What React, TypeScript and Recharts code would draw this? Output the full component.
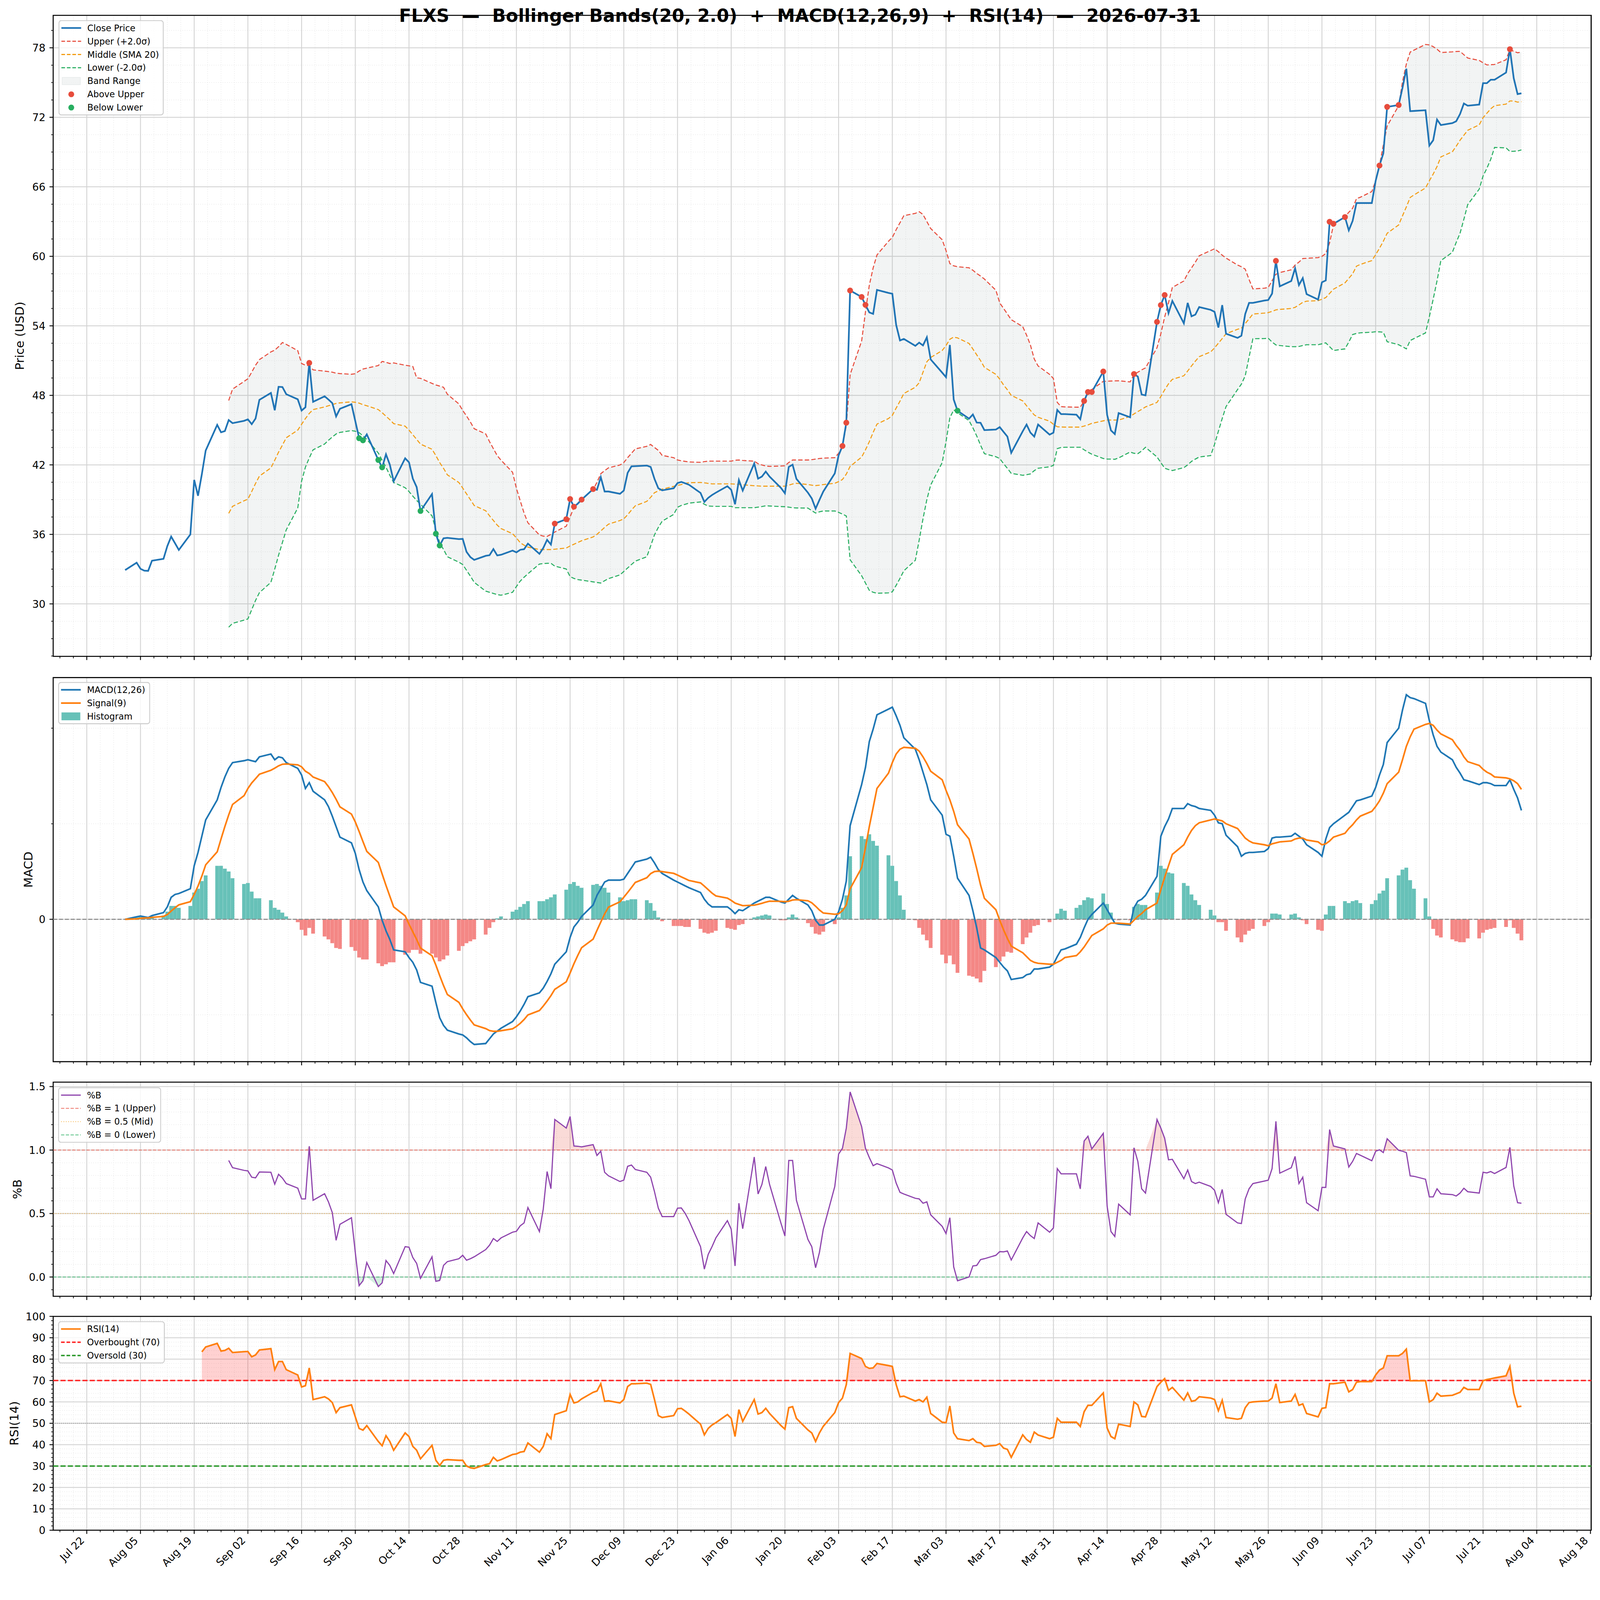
import React from 'react';
import {
  Area,
  Bar,
  CartesianGrid,
  Cell,
  ComposedChart,
  Line,
  ReferenceArea,
  ReferenceLine,
  Scatter,
  XAxis,
  YAxis,
} from 'recharts';

const FIG_W = 4378;
const FIG_H = 4322;
const FONT = '"DejaVu Sans", "Liberation Sans", sans-serif';
const X_DOMAIN: [number, number] = [-8.76, 392.2];
const Y_AXIS_W = 125.5;

// x values are calendar days after 2025-07-22; first close is 2025-08-01 (day 10)
const ORIGIN = Date.UTC(2025, 6, 22);
const FIRST_DAY = 10;

const xTickLabels = [
  'Jul 22', 'Aug 05', 'Aug 19', 'Sep 02', 'Sep 16', 'Sep 30', 'Oct 14', 'Oct 28',
  'Nov 11', 'Nov 25', 'Dec 09', 'Dec 23', 'Jan 06', 'Jan 20', 'Feb 03', 'Feb 17',
  'Mar 03', 'Mar 17', 'Mar 31', 'Apr 14', 'Apr 28', 'May 12', 'May 26', 'Jun 09',
  'Jun 23', 'Jul 07', 'Jul 21', 'Aug 04', 'Aug 18',
];

// one row per trading week (Mon..Fri), first entry is Fri 2025-08-01
const close = [
  32.92,
  33.56, 33.03, 32.87, 32.85, 33.73,
  33.89, 34.99, 35.81, 35.24, 34.66,
  35.99, 40.70, 39.33, 41.20, 43.24,
  45.45, 44.81, 44.92, 45.87, 45.60,
  45.80, 45.93, 45.51, 46.00, 47.61,
  48.21, 46.71, 48.74, 48.72, 48.10,
  47.66, 46.69, 46.97, 50.80, 47.44,
  47.92, 47.64, 47.33, 46.18, 46.84,
  47.24, 45.78, 44.30, 44.12, 44.63,
  42.42, 41.78, 42.91, 42.02, 40.59,
  42.57, 42.22, 40.81, 40.08, 38.02,
  39.48, 36.06, 35.04, 35.66, 35.70,
  35.59, 35.61, 34.49, 34.04, 33.80,
  34.15, 34.20, 34.73, 34.18, 34.24,
  34.60, 34.45, 34.67, 34.72, 35.20,
  34.32, 34.82, 35.53, 35.12, 36.93,
  37.31, 39.05, 38.39, 38.65, 39.00,
  39.91, 39.85, 40.94, 39.70, 39.70,
  39.50, 39.78, 41.31, 41.87, 41.89,
  41.94, 41.82, 40.79, 39.98, 39.80,
  39.98, 40.43, 40.53, 40.41, 40.28,
  39.58, 38.80, 39.15, 39.40, 39.60,
  40.16, 39.85, 38.60, 40.69, 39.78,
  42.12, 40.81, 40.99, 41.42, 40.99,
  40.00, 39.55, 41.82, 42.02, 40.79,
  39.60, 39.10, 38.22, 38.97, 39.70,
  41.26, 42.82, 43.63, 45.64, 57.05,
  56.49, 55.81, 55.16, 55.03, 57.10,
  56.84, 56.77, 54.08, 52.74, 52.87,
  52.27, 52.55, 52.31, 53.01, 51.10,
  49.96, 49.57, 52.35, 47.64, 46.67,
  45.99, 46.35, 45.65, 45.63, 45.00,
  45.05, 45.26, 44.85, 44.44, 43.04,
  44.90, 45.48, 44.78, 44.44, 45.48,
  44.61, 44.78, 46.74, 46.38, 46.38,
  46.33, 45.94, 47.52, 48.29, 48.29,
  50.06, 46.31, 44.97, 44.66, 46.47,
  46.11, 49.84, 49.62, 48.07, 48.00,
  54.34, 55.79, 56.66, 55.09, 56.15,
  54.22, 55.98, 54.82, 54.97, 55.62,
  55.38, 55.21, 53.85, 55.79, 53.32,
  52.96, 53.15, 55.02, 55.98, 55.98,
  56.18, 56.23, 56.78, 59.61, 57.41,
  57.87, 58.97, 57.52, 58.12, 56.74,
  56.27, 57.76, 57.92, 62.98, 62.81,
  63.39, 62.24, 63.06, 64.60, 64.60,
  64.60, 66.52, 67.84, 68.88, 72.90,
  73.06, 74.55, 76.19, 72.53, 72.55,
  72.61, 69.56, 70.02, 71.81, 71.33,
  71.50, 71.66, 72.28, 73.19, 73.00,
  73.10, 74.95, 74.95, 75.24, 75.24,
  75.86, 77.88, 75.37, 74.00, 74.07,
];

const upper = [
  null,
  null, null, null, null, null,
  null, null, null, null, null,
  null, null, null, null, null,
  null, null, null, 47.55, 48.54,
  49.20, 49.43, 50.00, 50.60, 51.08,
  51.75, 51.90, 52.20, 52.56, 52.40,
  51.86, 50.75, 50.60, 50.57, 50.20,
  50.09, 50.05, 50.00, 49.91, 49.88,
  49.82, 49.87, 50.10, 50.27, 50.35,
  50.57, 50.93, 50.85, 50.75, 50.80,
  50.60, 50.55, 50.49, 49.51, 49.47,
  49.03, 48.90, 48.80, 48.70, 48.10,
  47.26, 46.70, 46.22, 45.70, 45.12,
  44.67, 44.00, 43.40, 42.80, 42.40,
  41.36, 39.98, 38.90, 37.84, 37.00,
  35.95, 35.85, 35.83, 36.00, 36.20,
  36.71, 37.50, 38.34, 38.70, 39.05,
  39.85, 40.50, 41.24, 41.50, 41.74,
  41.99, 42.20, 42.62, 43.00, 43.38,
  43.60, 43.76, 43.50, 43.25, 42.82,
  42.62, 42.42, 42.35, 42.30, 42.25,
  42.22, 42.28, 42.32, 42.32, 42.32,
  42.32, 42.32, 42.40, 42.42, 42.38,
  42.32, 42.10, 41.99, 41.90, 41.87,
  41.90, 41.92, 42.20, 42.42, 42.42,
  42.42, 42.45, 42.50, 42.55, 42.58,
  42.62, 43.00, 43.63, 45.39, 49.80,
  52.69, 55.21, 57.50, 59.00, 60.12,
  61.30, 61.63, 62.30, 62.90, 63.51,
  63.71, 63.85, 63.61, 63.00, 62.40,
  61.43, 60.50, 59.37, 59.18, 59.10,
  59.01, 58.80, 58.52, 58.30, 58.04,
  57.07, 55.98, 55.50, 55.02, 54.53,
  53.93, 53.20, 52.35, 51.14, 50.54,
  49.81, 49.45, 47.39, 47.03, 47.00,
  46.98, 46.98, 47.52, 48.12, 48.50,
  49.21, 49.22, 49.24, 49.25, 49.26,
  49.16, 49.81, 50.00, 50.20, 50.37,
  52.11, 53.32, 54.77, 56.00, 57.31,
  57.87, 58.52, 59.00, 59.50, 60.05,
  60.50, 60.65, 60.40, 60.10, 59.85,
  59.25, 59.10, 58.89, 58.00, 57.19,
  57.25, 57.31, 57.90, 58.45, 58.60,
  58.84, 59.25, 59.50, 59.81, 59.83,
  59.89, 60.00, 60.24, 61.17, 62.71,
  63.43, 63.80, 64.15, 64.98, 65.10,
  65.59, 66.52, 67.84, 69.60, 71.25,
  73.00, 75.06, 76.60, 77.63, 77.80,
  78.29, 78.25, 78.10, 77.88, 77.59,
  77.65, 77.68, 77.69, 77.40, 77.12,
  76.91, 76.70, 76.52, 76.54, 76.56,
  76.97, 77.84, 77.70, 77.57, 77.63,
];

const middle = [
  null,
  null, null, null, null, null,
  null, null, null, null, null,
  null, null, null, null, null,
  null, null, null, 37.82, 38.42,
  38.90, 39.04, 39.70, 40.40, 41.03,
  41.74, 42.40, 43.10, 43.70, 44.34,
  45.00, 45.50, 46.00, 46.44, 46.77,
  47.00, 47.10, 47.20, 47.30, 47.35,
  47.44, 47.40, 47.33, 47.20, 47.10,
  46.77, 46.50, 46.20, 45.90, 45.56,
  45.34, 45.00, 44.60, 44.20, 43.79,
  43.35, 42.80, 42.20, 41.70, 41.14,
  40.48, 40.00, 39.50, 39.00, 38.49,
  38.04, 37.60, 37.20, 36.80, 36.50,
  36.06, 35.70, 35.28, 35.07, 34.90,
  34.69, 34.69, 34.69, 34.69, 34.72,
  34.82, 35.00, 35.15, 35.30, 35.45,
  35.78, 36.00, 36.30, 36.60, 36.88,
  37.20, 37.34, 37.70, 38.10, 38.47,
  38.85, 39.20, 39.60, 39.75, 39.90,
  40.15, 40.23, 40.30, 40.40, 40.46,
  40.48, 40.45, 40.40, 40.36, 40.36,
  40.36, 40.36, 40.34, 40.31, 40.28,
  40.20, 40.18, 40.16, 40.16, 40.16,
  40.16, 40.16, 40.25, 40.35, 40.41,
  40.30, 40.25, 40.21, 40.25, 40.30,
  40.41, 40.55, 40.74, 41.20, 41.87,
  42.67, 43.30, 44.00, 44.80, 45.52,
  46.00, 46.27, 46.90, 47.50, 48.16,
  48.70, 49.09, 50.00, 50.90, 51.27,
  51.87, 52.30, 52.84, 53.03, 52.96,
  52.48, 52.00, 51.50, 51.00, 50.42,
  49.81, 49.40, 48.90, 48.48, 48.00,
  47.52, 47.10, 46.70, 46.31, 46.11,
  45.77, 45.50, 45.29, 45.27, 45.26,
  45.26, 45.26, 45.35, 45.45, 45.58,
  45.80, 45.87, 45.87, 45.87, 45.87,
  46.18, 46.40, 46.60, 46.79, 47.00,
  47.39, 47.90, 48.48, 49.00, 49.38,
  49.69, 50.10, 50.54, 50.95, 51.34,
  51.75, 52.10, 52.50, 52.90, 53.32,
  53.70, 53.81, 54.20, 54.60, 55.02,
  55.10, 55.14, 55.25, 55.38, 55.42,
  55.50, 55.60, 55.80, 56.03, 56.13,
  56.17, 56.30, 56.44, 56.80, 57.16,
  57.71, 58.10, 58.49, 59.15, 59.30,
  59.63, 60.14, 60.70, 61.30, 61.99,
  62.71, 63.50, 64.26, 65.08, 65.30,
  65.90, 66.52, 67.10, 67.75, 68.58,
  69.03, 69.50, 70.02, 70.45, 70.88,
  71.35, 71.97, 72.35, 72.73, 73.00,
  73.14, 73.41, 73.41, 73.31, 73.35,
];

const lower = [
  null,
  null, null, null, null, null,
  null, null, null, null, null,
  null, null, null, null, null,
  null, null, null, 27.99, 28.32,
  28.60, 28.70, 29.50, 30.30, 30.97,
  31.86, 33.00, 34.20, 35.30, 36.39,
  38.27, 40.59, 41.80, 42.60, 43.30,
  43.80, 44.12, 44.40, 44.67, 44.80,
  44.96, 44.90, 44.78, 44.50, 44.20,
  43.02, 42.40, 41.80, 41.10, 40.48,
  40.03, 39.70, 39.30, 38.93, 38.60,
  37.60, 36.40, 35.28, 34.70, 34.07,
  33.60, 33.40, 32.90, 32.40, 31.86,
  31.10, 31.00, 30.90, 30.80, 30.75,
  31.00, 31.50, 31.97, 32.30, 32.60,
  33.44, 33.48, 33.50, 33.51, 33.26,
  33.01, 32.35, 32.20, 32.10, 32.05,
  31.90, 31.85, 31.80, 32.00, 32.18,
  32.50, 32.80, 33.10, 33.40, 33.69,
  34.07, 35.00, 35.96, 36.60, 37.14,
  37.72, 38.34, 38.50, 38.60, 38.70,
  38.80, 38.60, 38.45, 38.43, 38.42,
  38.42, 38.42, 38.30, 38.30, 38.30,
  38.30, 38.35, 38.40, 38.47, 38.45,
  38.40, 38.39, 38.35, 38.30, 38.28,
  38.27, 38.05, 37.84, 37.95, 38.02,
  38.02, 37.90, 37.75, 37.59, 33.81,
  32.43, 31.80, 31.17, 31.00, 30.92,
  30.95, 31.04, 31.60, 32.20, 32.86,
  33.76, 35.50, 37.35, 39.00, 40.26,
  42.19, 44.00, 46.06, 46.74, 46.50,
  45.82, 45.20, 44.50, 43.70, 42.97,
  42.70, 42.55, 42.10, 41.70, 41.27,
  41.10, 41.15, 41.22, 41.50, 41.71,
  41.83, 41.95, 43.40, 43.50, 43.52,
  43.52, 43.52, 43.30, 43.10, 42.92,
  42.55, 42.50, 42.50, 42.48, 42.60,
  43.11, 43.00, 42.97, 43.20, 43.52,
  42.68, 42.20, 41.71, 41.60, 41.51,
  41.76, 42.00, 42.30, 42.50, 42.68,
  42.80, 43.77, 44.90, 46.00, 47.03,
  48.50, 48.97, 49.69, 51.30, 52.89,
  52.90, 52.93, 52.60, 52.35, 52.30,
  52.20, 52.20, 52.22, 52.30, 52.37,
  52.37, 52.45, 52.53, 52.20, 51.87,
  52.01, 52.60, 53.25, 53.35, 53.40,
  53.45, 53.49, 53.48, 53.45, 52.63,
  52.37, 52.20, 52.01, 52.73, 52.90,
  53.39, 54.79, 56.30, 57.88, 59.63,
  60.35, 61.20, 61.99, 63.20, 64.46,
  65.80, 66.93, 67.60, 68.37, 69.40,
  69.36, 69.05, 69.07, 69.09, 69.19,
];

// indices (trading-day position) of the flagged closes
const aboveUpperIdx = [34, 80, 81, 82, 83, 85, 86, 133, 134, 135, 136, 137, 178, 179, 180, 181, 187, 191, 192, 193, 214, 224, 225, 226, 233, 235, 236, 257];
const belowLowerIdx = [43, 44, 46, 47, 55, 57, 58, 155];

const macd = [
  0.00,
  0.026, 0.034, 0.026, 0.018, 0.039,
  0.07, 0.13, 0.23, 0.26, 0.27,
  0.32, 0.56, 0.70, 0.87, 1.04,
  1.25, 1.38, 1.49, 1.58, 1.64,
  1.66, 1.67, 1.66, 1.65, 1.70,
  1.73, 1.67, 1.70, 1.69, 1.64,
  1.58, 1.51, 1.37, 1.43, 1.34,
  1.25, 1.18, 1.08, 0.97, 0.86,
  0.80, 0.69, 0.52, 0.39, 0.30,
  0.13, -0.01, -0.12, -0.21, -0.32,
  -0.34, -0.40, -0.45, -0.53, -0.66,
  -0.70, -0.87, -1.03, -1.11, -1.16,
  -1.20, -1.21, -1.24, -1.28, -1.31,
  -1.30, -1.25, -1.20, -1.17, -1.14,
  -1.07, -1.02, -0.96, -0.89, -0.81,
  -0.77, -0.72, -0.65, -0.57, -0.47,
  -0.34, -0.19, -0.08, -0.03, 0.03,
  0.15, 0.25, 0.32, 0.39, 0.41,
  0.41, 0.42, 0.48, 0.54, 0.60,
  0.63, 0.65, 0.59, 0.52, 0.48,
  0.41, 0.39, 0.37, 0.35, 0.33,
  0.28, 0.21, 0.16, 0.13, 0.13,
  0.13, 0.10, 0.06, 0.10, 0.09,
  0.17, 0.19, 0.21, 0.23, 0.23,
  0.18, 0.17, 0.21, 0.25, 0.22,
  0.15, 0.09, -0.01, -0.06, -0.06,
  0.00, 0.08, 0.21, 0.40, 0.98,
  1.41, 1.59, 1.86, 1.99, 2.14,
  2.20, 2.22, 2.13, 2.03, 1.90,
  1.78, 1.67, 1.54, 1.41, 1.25,
  1.09, 0.89, 0.87, 0.66, 0.43,
  0.25, 0.09, -0.09, -0.30, -0.32,
  -0.40, -0.45, -0.50, -0.54, -0.63,
  -0.61, -0.58, -0.57, -0.52, -0.52,
  -0.50, -0.47, -0.39, -0.32, -0.31,
  -0.26, -0.19, -0.09, 0.00, 0.05,
  0.17, 0.10, 0.03, -0.04, -0.05,
  -0.06, 0.12, 0.19, 0.21, 0.25,
  0.45, 0.87, 0.97, 1.05, 1.16,
  1.16, 1.21, 1.19, 1.18, 1.16,
  1.14, 1.09, 1.01, 1.00, 0.88,
  0.76, 0.66, 0.69, 0.70, 0.70,
  0.71, 0.74, 0.85, 0.86, 0.86,
  0.87, 0.90, 0.87, 0.84, 0.78,
  0.70, 0.66, 0.84, 0.96, 1.00,
  1.09, 1.12, 1.18, 1.24, 1.25,
  1.29, 1.38, 1.51, 1.62, 1.85,
  2.00, 2.19, 2.35, 2.32, 2.31,
  2.26, 2.08, 1.93, 1.81, 1.75,
  1.67, 1.59, 1.53, 1.46, 1.45,
  1.41, 1.43, 1.43, 1.42, 1.40,
  1.40, 1.46, 1.36, 1.27, 1.14,
];

const signal = [
  0.00,
  0.005, 0.011, 0.014, 0.015, 0.020,
  0.030, 0.050, 0.086, 0.121, 0.151,
  0.185, 0.260, 0.348, 0.452, 0.570,
  0.706, 0.841, 0.971, 1.093, 1.202,
  1.294, 1.369, 1.427, 1.472, 1.518,
  1.560, 1.582, 1.606, 1.623, 1.626,
  1.617, 1.596, 1.550, 1.526, 1.489,
  1.441, 1.389, 1.327, 1.256, 1.177,
  1.101, 1.019, 0.919, 0.813, 0.711,
  0.595, 0.474, 0.355, 0.242, 0.130,
  0.036, -0.051, -0.131, -0.211, -0.301,
  -0.381, -0.479, -0.589, -0.693, -0.787,
  -0.869, -0.937, -0.998, -1.054, -1.105,
  -1.144, -1.165, -1.172, -1.172, -1.166,
  -1.146, -1.121, -1.089, -1.049, -1.001,
  -0.955, -0.908, -0.856, -0.799, -0.733,
  -0.654, -0.562, -0.465, -0.378, -0.297,
  -0.207, -0.116, -0.028, 0.056, 0.127,
  0.183, 0.231, 0.281, 0.333, 0.386,
  0.435, 0.478, 0.500, 0.504, 0.499,
  0.481, 0.463, 0.444, 0.425, 0.406,
  0.381, 0.347, 0.310, 0.274, 0.245,
  0.222, 0.198, 0.170, 0.156, 0.143,
  0.148, 0.157, 0.167, 0.180, 0.190,
  0.188, 0.184, 0.189, 0.202, 0.205,
  0.194, 0.173, 0.137, 0.097, 0.066,
  0.053, 0.058, 0.090, 0.150, 0.320,
  0.54, 0.75, 0.97, 1.17, 1.37,
  1.53, 1.64, 1.73, 1.78, 1.80,
  1.79, 1.76, 1.70, 1.63, 1.55,
  1.46, 1.35, 1.25, 1.13, 0.99,
  0.84, 0.69, 0.53, 0.36, 0.22,
  0.10, -0.01, -0.11, -0.20, -0.28,
  -0.35, -0.39, -0.43, -0.45, -0.46,
  -0.47, -0.47, -0.45, -0.43, -0.40,
  -0.38, -0.34, -0.29, -0.23, -0.17,
  -0.10, -0.06, -0.04, -0.04, -0.04,
  -0.05, -0.01, 0.03, 0.06, 0.10,
  0.17, 0.31, 0.44, 0.56, 0.68,
  0.78, 0.86, 0.93, 0.98, 1.01,
  1.04, 1.05, 1.04, 1.03, 1.00,
  0.95, 0.90, 0.85, 0.82, 0.80,
  0.78, 0.77, 0.79, 0.80, 0.81,
  0.82, 0.84, 0.85, 0.85, 0.83,
  0.81, 0.78, 0.79, 0.82, 0.86,
  0.90, 0.95, 0.99, 1.04, 1.08,
  1.13, 1.18, 1.24, 1.32, 1.42,
  1.54, 1.67, 1.81, 1.91, 1.99,
  2.04, 2.05, 2.03, 1.98, 1.94,
  1.88, 1.82, 1.77, 1.70, 1.65,
  1.61, 1.57, 1.54, 1.52, 1.49,
  1.48, 1.47, 1.45, 1.42, 1.36,
];

const hist = [
  0.00,
  0.02, 0.03, 0.02, 0.01, 0.03,
  0.04, 0.08, 0.14, 0.14, 0.12,
  0.14, 0.28, 0.32, 0.40, 0.46,
  0.56, 0.56, 0.53, 0.50, 0.43,
  0.37, 0.38, 0.29, 0.22, 0.22,
  0.20, 0.12, 0.10, 0.07, 0.03,
  -0.03, -0.11, -0.17, -0.09, -0.15,
  -0.18, -0.21, -0.25, -0.30, -0.31,
  -0.29, -0.33, -0.40, -0.42, -0.42,
  -0.46, -0.49, -0.47, -0.45, -0.45,
  -0.37, -0.35, -0.32, -0.32, -0.36,
  -0.36, -0.40, -0.44, -0.42, -0.38,
  -0.33, -0.28, -0.25, -0.23, -0.21,
  -0.16, -0.09, -0.03, 0.01, 0.03,
  0.08, 0.10, 0.13, 0.16, 0.19,
  0.19, 0.19, 0.21, 0.23, 0.26,
  0.31, 0.37, 0.39, 0.35, 0.33,
  0.36, 0.37, 0.35, 0.33, 0.28,
  0.23, 0.19, 0.20, 0.21, 0.21,
  0.20, 0.17, 0.09, 0.02, -0.02,
  -0.07, -0.07, -0.07, -0.08, -0.08,
  -0.10, -0.14, -0.15, -0.14, -0.12,
  -0.09, -0.10, -0.11, -0.06, -0.05,
  0.02, 0.03, 0.04, 0.05, 0.04,
  -0.01, -0.01, 0.02, 0.05, 0.02,
  -0.04, -0.08, -0.15, -0.16, -0.13,
  -0.05, 0.02, 0.12, 0.25, 0.66,
  0.87, 0.84, 0.89, 0.82, 0.77,
  0.67, 0.56, 0.40, 0.25, 0.10,
  -0.01, -0.09, -0.16, -0.22, -0.30,
  -0.37, -0.46, -0.38, -0.47, -0.56,
  -0.59, -0.60, -0.62, -0.66, -0.54,
  -0.50, -0.44, -0.39, -0.34, -0.35,
  -0.26, -0.19, -0.14, -0.07, -0.06,
  -0.03, 0.00, 0.06, 0.11, 0.09,
  0.12, 0.15, 0.20, 0.23, 0.22,
  0.27, 0.16, 0.07, 0.00, -0.01,
  -0.01, 0.13, 0.16, 0.15, 0.15,
  0.28, 0.56, 0.53, 0.49, 0.48,
  0.38, 0.35, 0.26, 0.20, 0.15,
  0.10, 0.04, -0.03, -0.03, -0.12,
  -0.19, -0.24, -0.16, -0.12, -0.10,
  -0.07, -0.03, 0.06, 0.06, 0.05,
  0.05, 0.06, 0.02, -0.01, -0.05,
  -0.11, -0.12, 0.05, 0.14, 0.14,
  0.19, 0.17, 0.19, 0.20, 0.17,
  0.16, 0.20, 0.27, 0.30, 0.43,
  0.46, 0.52, 0.54, 0.41, 0.32,
  0.22, 0.03, -0.10, -0.17, -0.19,
  -0.21, -0.23, -0.24, -0.24, -0.20,
  -0.20, -0.14, -0.11, -0.10, -0.09,
  -0.08, -0.01, -0.09, -0.15, -0.22,
];

const pctB = [
  null,
  null, null, null, null, null,
  null, null, null, null, null,
  null, null, null, null, null,
  null, null, null, 0.918, 0.861,
  0.840, 0.836, 0.786, 0.781, 0.827,
  0.825, 0.731, 0.809, 0.779, 0.736,
  0.700, 0.615, 0.615, 1.030, 0.604,
  0.656, 0.592, 0.508, 0.289, 0.415,
  0.467, 0.194, -0.068, -0.030, 0.114,
  -0.075, -0.046, 0.130, 0.091, 0.027,
  0.239, 0.235, 0.153, 0.107, -0.010,
  0.159, -0.034, -0.027, 0.091, 0.121,
  0.144, 0.171, 0.132, 0.144, 0.159,
  0.216, 0.251, 0.303, 0.280, 0.308,
  0.353, 0.360, 0.403, 0.426, 0.547,
  0.358, 0.535, 0.831, 0.695, 1.241,
  1.173, 1.264, 1.032, 1.030, 1.025,
  1.043, 0.957, 0.991, 0.825, 0.797,
  0.752, 0.763, 0.872, 0.882, 0.847,
  0.825, 0.786, 0.672, 0.542, 0.476,
  0.476, 0.542, 0.544, 0.501, 0.444,
  0.239, 0.062, 0.178, 0.239, 0.308,
  0.444, 0.376, 0.087, 0.581, 0.380,
  0.945, 0.654, 0.729, 0.870, 0.729,
  0.421, 0.323, 0.918, 0.918, 0.604,
  0.296, 0.239, 0.073, 0.194, 0.376,
  0.713, 0.968, 1.014, 1.173, 1.458,
  1.185, 1.014, 0.941, 0.877, 0.893,
  0.859, 0.843, 0.740, 0.667, 0.654,
  0.620, 0.615, 0.581, 0.592, 0.490,
  0.399, 0.342, 0.467, 0.080, -0.030,
  0.000, 0.087, 0.091, 0.137, 0.144,
  0.171, 0.200, 0.198, 0.205, 0.134,
  0.308, 0.358, 0.326, 0.303, 0.426,
  0.353, 0.387, 0.854, 0.813, 0.813,
  0.813, 0.695, 1.071, 1.109, 1.009,
  1.132, 0.558, 0.358, 0.319, 0.574,
  0.490, 1.018, 0.911, 0.695, 0.661,
  1.241, 1.173, 1.093, 0.923, 0.927,
  0.774, 0.843, 0.752, 0.736, 0.747,
  0.713, 0.683, 0.585, 0.690, 0.494,
  0.426, 0.421, 0.615, 0.695, 0.736,
  0.756, 0.763, 0.854, 1.226, 0.818,
  0.861, 0.950, 0.736, 0.786, 0.585,
  0.522, 0.706, 0.706, 1.162, 1.032,
  1.009, 0.866, 0.911, 0.973, 0.959,
  0.916, 0.991, 1.002, 0.980, 1.089,
  0.998, 0.991, 0.980, 0.797, 0.793,
  0.770, 0.631, 0.631, 0.695, 0.656,
  0.649, 0.638, 0.661, 0.699, 0.672,
  0.661, 0.825, 0.820, 0.831, 0.815,
  0.863, 1.021, 0.718, 0.585, 0.581,
];

const rsi = [
  null,
  null, null, null, null, null,
  null, null, null, null, null,
  null, null, null, 83.4, 85.7,
  87.4, 83.8, 84.1, 85.1, 83.1,
  83.5, 83.6, 81.1, 82.0, 84.3,
  84.9, 75.1, 78.9, 78.9, 75.1,
  72.6, 67.0, 67.6, 75.9, 61.1,
  62.4, 61.4, 59.7, 55.0, 57.3,
  58.6, 53.0, 47.6, 46.8, 48.9,
  41.5, 39.5, 44.2, 41.5, 37.4,
  45.5, 43.8, 39.2, 37.4, 33.4,
  39.7, 32.7, 30.3, 32.7, 33.0,
  32.7, 32.7, 30.0, 29.2, 28.9,
  30.7, 31.1, 34.1, 32.4, 33.0,
  35.4, 35.7, 36.5, 36.8, 40.8,
  36.5, 39.2, 45.1, 42.8, 54.1,
  55.9, 63.5, 59.5, 60.0, 61.4,
  64.5, 65.1, 68.5, 60.3, 60.5,
  59.5, 61.1, 67.2, 68.5, 68.5,
  68.8, 68.2, 61.1, 53.6, 52.7,
  53.6, 56.8, 57.0, 55.7, 54.3,
  49.6, 44.6, 47.6, 49.2, 50.3,
  54.1, 52.3, 43.8, 56.4, 50.9,
  61.1, 54.3, 55.0, 57.0, 54.6,
  48.9, 47.3, 57.3, 57.8, 52.3,
  46.9, 45.5, 41.5, 45.5, 48.6,
  55.0, 59.7, 61.8, 68.1, 82.7,
  80.3, 76.6, 75.7, 75.9, 78.0,
  77.0, 76.6, 68.1, 62.4, 62.7,
  60.4, 61.1, 60.0, 62.2, 54.6,
  50.5, 50.3, 58.1, 45.5, 42.8,
  41.9, 42.8, 41.1, 40.8, 39.2,
  39.7, 40.5, 38.4, 37.8, 34.1,
  44.6, 42.4, 41.1, 45.9, 44.5,
  42.8, 43.5, 52.3, 50.5, 50.5,
  50.5, 48.5, 55.4, 58.4, 58.4,
  64.2, 47.8, 43.8, 42.8, 49.6,
  48.5, 60.0, 58.6, 53.2, 53.0,
  67.2, 69.2, 70.9, 65.4, 66.8,
  60.8, 64.2, 60.3, 60.7, 62.4,
  61.8, 61.1, 55.9, 60.8, 52.7,
  51.9, 52.3, 57.3, 59.7, 60.0,
  60.4, 60.4, 61.8, 68.5, 59.7,
  60.4, 63.5, 58.4, 59.1, 54.6,
  53.0, 57.0, 57.3, 68.5, 68.5,
  69.2, 64.7, 65.8, 69.2, 69.5,
  69.5, 72.6, 74.9, 75.9, 81.6,
  81.6, 82.7, 84.7, 69.9, 69.9,
  69.9, 60.0, 61.1, 64.1, 62.7,
  63.1, 63.8, 64.5, 66.8, 65.8,
  65.8, 69.9, 70.5, 70.8, 71.2,
  72.2, 76.6, 64.1, 57.7, 58.0,
];

// ---- trading calendar (weekdays from 2025-08-01) ----
const tradingDays: number[] = [];
for (let d = FIRST_DAY; tradingDays.length < close.length; d++) {
  const wd = new Date(ORIGIN + d * 86400000).getUTCDay();
  if (wd !== 0 && wd !== 6) tradingDays.push(d);
}

const val = (arr: (number | null)[], i: number) => (arr[i] == null ? null : (arr[i] as number));

const rows = tradingDays.map((t, i) => {
  const up = val(upper, i);
  const lo = val(lower, i);
  const pb = val(pctB, i);
  const r = val(rsi, i);
  return {
    t,
    close: val(close, i),
    upper: up,
    middle: val(middle, i),
    lower: lo,
    band: up != null && lo != null ? [lo, up] : null,
    macd: val(macd, i),
    signal: val(signal, i),
    hist: val(hist, i),
    pctB: pb,
    pbHigh: pb != null ? [1, Math.max(1, pb)] : null,
    pbLow: pb != null ? [Math.min(0, pb), 0] : null,
    rsi: r,
    rsiHigh: r != null ? [70, Math.max(70, r)] : null,
    rsiLow: r != null ? [Math.min(30, r), 30] : null,
  };
});

const abovePts = aboveUpperIdx.map((i) => ({ t: tradingDays[i], close: close[i] }));
const belowPts = belowLowerIdx.map((i) => ({ t: tradingDays[i], close: close[i] }));

// ---- ticks ----
const xMajor: number[] = [];
for (let k = 0; k * 14 <= X_DOMAIN[1]; k++) xMajor.push(k * 14);
const xMinor: number[] = [];
for (let v = -7; v <= X_DOMAIN[1]; v += 3.5) if (v % 14 !== 0) xMinor.push(v);
const xTicks = [...xMajor, ...xMinor].sort((a, b) => a - b);

const priceMajor = [30, 36, 42, 48, 54, 60, 66, 72, 78];
const priceMinor: number[] = [];
for (let k = 17; k <= 53; k++) if ((k * 1.5) % 6 !== 0) priceMinor.push(k * 1.5);

const macdMajor = [0];
const macdMinor = [-1, 1, 2];

const pbMajor = [0, 0.5, 1, 1.5];
const pbMinor: number[] = [];
for (let k = -1; k <= 15; k++) if (k % 5 !== 0) pbMinor.push(k / 10);

const rsiMajor: number[] = [];
for (let k = 0; k <= 100; k += 10) rsiMajor.push(k);
const rsiMinor: number[] = [];
for (let k = 2; k < 100; k += 2) if (k % 10 !== 0) rsiMinor.push(k);

const isNear = (a: number, b: number) => Math.abs(a - b) < 1e-6;

function makeXTick(showLabels: boolean) {
  return (props: any) => {
    const { x, y, payload } = props;
    const v = Number(payload?.value);
    const k = Math.round(v / 14);
    const major = isNear(v, k * 14);
    const len = major ? 10 : 5.5;
    const lx = x - 5;
    const ly = y + 30;
    return (
      <g>
        <line x1={x} x2={x} y1={y} y2={y + len} stroke="#000" strokeWidth={major ? 2.4 : 1.8} />
        {showLabels && major && xTickLabels[k] ? (
          <text
            x={lx}
            y={ly}
            textAnchor="end"
            fontSize={28.5}
            fontFamily={FONT}
            fill="#000"
            transform={`rotate(-45 ${lx} ${ly})`}
          >
            {xTickLabels[k]}
          </text>
        ) : null}
      </g>
    );
  };
}

function makeYTick(majors: number[], fmt: (v: number) => string) {
  return (props: any) => {
    const { x, y, payload } = props;
    const v = Number(payload?.value);
    const major = majors.some((m) => isNear(m, v));
    const len = major ? 10 : 5.5;
    return (
      <g>
        <line x1={x - len} x2={x} y1={y} y2={y} stroke="#000" strokeWidth={major ? 2.4 : 1.8} />
        {major ? (
          <text x={x - len - 11} y={y} dy={10.4} textAnchor="end" fontSize={28.5} fontFamily={FONT} fill="#000">
            {fmt(v)}
          </text>
        ) : null}
      </g>
    );
  };
}

const xTickPlain = makeXTick(false);
const xTickLabeled = makeXTick(true);
const priceTick = makeYTick(priceMajor, (v) => String(v));
const macdTick = makeYTick(macdMajor, (v) => String(v));
const pbTick = makeYTick(pbMajor, (v) => v.toFixed(1));
const rsiTick = makeYTick(rsiMajor, (v) => String(v));

function AxisTitle(props: any) {
  const { text, cx, cy } = props;
  return (
    <text
      x={cx}
      y={cy}
      transform={`rotate(-90 ${cx} ${cy})`}
      textAnchor="middle"
      dominantBaseline="central"
      fontSize={33}
      fontFamily={FONT}
      fill="#000"
    >
      {text}
    </text>
  );
}

const makeDot = (color: string) => (p: any) => <circle cx={p.cx} cy={p.cy} r={8} fill={color} />;

type LegendEntry = {
  label: string;
  kind: 'line' | 'dot' | 'patch';
  color: string;
  width?: number;
  dash?: string;
  opacity?: number;
};

function LegendBox({ left, top, width, entries }: { left: number; top: number; width: number; entries: LegendEntry[] }) {
  const rowH = 36.3;
  const height = 43 + rowH * (entries.length - 1);
  return (
    <svg width={width} height={height} style={{ position: 'absolute', left, top }}>
      <rect x={1.25} y={1.25} width={width - 2.5} height={height - 2.5} rx={7} fill="#fff" fillOpacity={0.8} stroke="#cccccc" strokeWidth={2.5} />
      {entries.map((e, k) => {
        const cy = 21.5 + rowH * k;
        let handle;
        if (e.kind === 'dot') handle = <circle cx={35} cy={cy} r={8} fill={e.color} />;
        else if (e.kind === 'patch')
          handle = (
            <rect x={10} y={cy - 10} width={50} height={20} fill={e.color} fillOpacity={e.opacity ?? 1} stroke={e.color} strokeOpacity={(e.opacity ?? 1) * 1.5} strokeWidth={1.5} />
          );
        else
          handle = (
            <line x1={8} x2={62} y1={cy} y2={cy} stroke={e.color} strokeWidth={e.width ?? 3} strokeDasharray={e.dash} strokeOpacity={e.opacity ?? 1} />
          );
        return (
          <g key={e.label}>
            {handle}
            <text x={79} y={cy} dy={8.6} fontSize={24} fontFamily={FONT} fill="#000" style={{ whiteSpace: 'pre' }}>
              {e.label}
            </text>
          </g>
        );
      })}
    </svg>
  );
}

// colours
const C_CLOSE = '#2074b5';
const C_UPPER = '#e74c3c';
const C_MID = '#f39c12';
const C_LOWER = '#27ae60';
const C_MACD = '#1f77b4';
const C_SIGNAL = '#ff7f0e';
const C_POS = '#67c1b8';
const C_NEG = '#f48785';
const C_PB = '#8e44ad';
const C_RSI = '#ff7f0e';

const MAJOR_GRID = { stroke: '#d3d3d3', strokeWidth: 2.4 };
const MINOR_GRID = { stroke: '#e2e2e2', strokeWidth: 1.6, strokeDasharray: '1.6 4.5' };

function viewportScale() {
  if (typeof window === 'undefined') return 1;
  const s = Math.min(window.innerWidth / FIG_W, window.innerHeight / FIG_H);
  return s > 0 && Number.isFinite(s) ? s : 1;
}

export default function App() {
  const scale = viewportScale();
  const panels = {
    price: { top: 0, mTop: 42, plotH: 1754, axisH: 20, dom: [25.47, 80.8] as [number, number] },
    macd: { top: 1834, mTop: 20, plotH: 1051, axisH: 20, dom: [-1.49, 2.53] as [number, number] },
    pb: { top: 2941, mTop: 20, plotH: 586, axisH: 20, dom: [-0.152, 1.535] as [number, number] },
    rsi: { top: 3582, mTop: 20, plotH: 585, axisH: 135, dom: [0, 100] as [number, number] },
  };
  const chartH = (p: { mTop: number; plotH: number; axisH: number }) => p.mTop + p.plotH + p.axisH;
  const margin = (p: { mTop: number }) => ({ top: p.mTop, right: 24, bottom: 0, left: 20 });
  const frame = (dom: [number, number]) => (
    <ReferenceArea
      x1={X_DOMAIN[0]}
      x2={X_DOMAIN[1]}
      y1={dom[0]}
      y2={dom[1]}
      fill="none"
      fillOpacity={0}
      stroke="#000"
      strokeWidth={2.8}
      ifOverflow="visible"
    />
  );
  const xAxis = (labeled: boolean, h: number) => (
    <XAxis
      type="number"
      dataKey="t"
      domain={X_DOMAIN}
      allowDataOverflow
      ticks={xTicks}
      interval={0}
      tick={labeled ? xTickLabeled : xTickPlain}
      tickLine={false}
      axisLine={false}
      tickSize={0}
      tickMargin={0}
      height={h}
    />
  );

  return (
    <div style={{ position: 'fixed', left: 0, top: 0, width: '100vw', height: '100vh', overflow: 'hidden', background: '#ffffff' }}>
      <div
        style={{
          position: 'absolute',
          left: 0,
          top: 0,
          width: FIG_W,
          height: FIG_H,
          background: '#ffffff',
          overflow: 'hidden',
          fontFamily: FONT,
          transform: `scale(${scale})`,
          transformOrigin: '0 0',
        }}
      >
        {/* Price + Bollinger bands */}
        <div style={{ position: 'absolute', left: 0, top: panels.price.top }}>
          <ComposedChart width={FIG_W} height={chartH(panels.price)} data={rows} margin={margin(panels.price)}>
            <CartesianGrid verticalValues={xMinor} horizontalValues={priceMinor} {...MINOR_GRID} />
            <CartesianGrid verticalValues={xMajor} horizontalValues={priceMajor} {...MAJOR_GRID} />
            {xAxis(false, panels.price.axisH)}
            <YAxis
              type="number"
              domain={panels.price.dom}
              allowDataOverflow
              ticks={[...priceMajor, ...priceMinor].sort((a, b) => a - b)}
              interval={0}
              tick={priceTick}
              tickLine={false}
              axisLine={false}
              tickSize={0}
              tickMargin={0}
              width={Y_AXIS_W}
              label={<AxisTitle text="Price (USD)" cx={53} cy={panels.price.mTop + panels.price.plotH / 2} />}
            />
            <Area dataKey="band" stroke="none" fill="#95a5a6" fillOpacity={0.12} isAnimationActive={false} />
            <Line dataKey="upper" stroke={C_UPPER} strokeWidth={2.8} strokeDasharray="12 6" dot={false} activeDot={false} isAnimationActive={false} />
            <Line dataKey="middle" stroke={C_MID} strokeWidth={2.8} strokeDasharray="12 6" dot={false} activeDot={false} isAnimationActive={false} />
            <Line dataKey="lower" stroke={C_LOWER} strokeWidth={2.8} strokeDasharray="12 6" dot={false} activeDot={false} isAnimationActive={false} />
            <Line dataKey="close" stroke={C_CLOSE} strokeWidth={4.6} dot={false} activeDot={false} isAnimationActive={false} />
            <Scatter data={abovePts} dataKey="close" fill={C_UPPER} shape={makeDot(C_UPPER)} isAnimationActive={false} />
            <Scatter data={belowPts} dataKey="close" fill={C_LOWER} shape={makeDot(C_LOWER)} isAnimationActive={false} />
            {frame(panels.price.dom)}
          </ComposedChart>
        </div>

        {/* MACD */}
        <div style={{ position: 'absolute', left: 0, top: panels.macd.top }}>
          <ComposedChart width={FIG_W} height={chartH(panels.macd)} data={rows} margin={margin(panels.macd)}>
            <CartesianGrid verticalValues={xMinor} horizontalValues={macdMinor} {...MINOR_GRID} />
            <CartesianGrid verticalValues={xMajor} horizontalValues={macdMajor} {...MAJOR_GRID} />
            {xAxis(false, panels.macd.axisH)}
            <YAxis
              type="number"
              domain={panels.macd.dom}
              allowDataOverflow
              ticks={[-1, 0, 1, 2]}
              interval={0}
              tick={macdTick}
              tickLine={false}
              axisLine={false}
              tickSize={0}
              tickMargin={0}
              width={Y_AXIS_W}
              label={<AxisTitle text="MACD" cx={77} cy={panels.macd.mTop + panels.macd.plotH / 2} />}
            />
            <Bar dataKey="hist" barSize={10.3} isAnimationActive={false}>
              {rows.map((r, i) => (
                <Cell key={i} fill={(r.hist ?? 0) >= 0 ? C_POS : C_NEG} />
              ))}
            </Bar>
            <ReferenceLine y={0} stroke="#8c8c8c" strokeWidth={3} strokeDasharray="11 5" />
            <Line dataKey="macd" stroke={C_MACD} strokeWidth={4.4} dot={false} activeDot={false} isAnimationActive={false} />
            <Line dataKey="signal" stroke={C_SIGNAL} strokeWidth={4.4} dot={false} activeDot={false} isAnimationActive={false} />
            {frame(panels.macd.dom)}
          </ComposedChart>
        </div>

        {/* %B */}
        <div style={{ position: 'absolute', left: 0, top: panels.pb.top }}>
          <ComposedChart width={FIG_W} height={chartH(panels.pb)} data={rows} margin={margin(panels.pb)}>
            <CartesianGrid verticalValues={xMinor} horizontalValues={pbMinor} {...MINOR_GRID} />
            <CartesianGrid verticalValues={xMajor} horizontalValues={pbMajor} {...MAJOR_GRID} />
            {xAxis(false, panels.pb.axisH)}
            <YAxis
              type="number"
              domain={panels.pb.dom}
              allowDataOverflow
              ticks={[...pbMajor, ...pbMinor].sort((a, b) => a - b)}
              interval={0}
              tick={pbTick}
              tickLine={false}
              axisLine={false}
              tickSize={0}
              tickMargin={0}
              width={Y_AXIS_W}
              label={<AxisTitle text="%B" cx={47} cy={panels.pb.mTop + panels.pb.plotH / 2} />}
            />
            <Area dataKey="pbHigh" stroke="none" fill={C_UPPER} fillOpacity={0.2} isAnimationActive={false} />
            <Area dataKey="pbLow" stroke="none" fill={C_LOWER} fillOpacity={0.2} isAnimationActive={false} />
            <ReferenceLine y={1} stroke={C_UPPER} strokeOpacity={0.7} strokeWidth={2.4} strokeDasharray="9 4" />
            <ReferenceLine y={0.5} stroke={C_MID} strokeOpacity={0.6} strokeWidth={2.4} strokeDasharray="2.5 4" />
            <ReferenceLine y={0} stroke={C_LOWER} strokeOpacity={0.7} strokeWidth={2.4} strokeDasharray="9 4" />
            <Line dataKey="pctB" stroke={C_PB} strokeWidth={3.2} dot={false} activeDot={false} isAnimationActive={false} />
            {frame(panels.pb.dom)}
          </ComposedChart>
        </div>

        {/* RSI */}
        <div style={{ position: 'absolute', left: 0, top: panels.rsi.top }}>
          <ComposedChart width={FIG_W} height={chartH(panels.rsi)} data={rows} margin={margin(panels.rsi)}>
            <CartesianGrid verticalValues={xMinor} horizontalValues={rsiMinor} {...MINOR_GRID} />
            <CartesianGrid verticalValues={xMajor} horizontalValues={rsiMajor} {...MAJOR_GRID} />
            {xAxis(true, panels.rsi.axisH)}
            <YAxis
              type="number"
              domain={panels.rsi.dom}
              allowDataOverflow
              ticks={[...rsiMajor, ...rsiMinor].sort((a, b) => a - b)}
              interval={0}
              tick={rsiTick}
              tickLine={false}
              axisLine={false}
              tickSize={0}
              tickMargin={0}
              width={Y_AXIS_W}
              label={<AxisTitle text="RSI(14)" cx={38} cy={panels.rsi.mTop + panels.rsi.plotH / 2} />}
            />
            <Area dataKey="rsiHigh" stroke="none" fill="#ff0000" fillOpacity={0.18} isAnimationActive={false} />
            <Area dataKey="rsiLow" stroke="none" fill="#2ca02c" fillOpacity={0.2} isAnimationActive={false} />
            <ReferenceLine y={50} stroke="#9a9a9a" strokeWidth={2.6} strokeDasharray="2.5 3" />
            <ReferenceLine y={70} stroke="#ff2a2a" strokeWidth={4} strokeDasharray="14 6" />
            <ReferenceLine y={30} stroke="#2e9a2e" strokeWidth={4} strokeDasharray="14 6" />
            <Line dataKey="rsi" stroke={C_RSI} strokeWidth={4.4} dot={false} activeDot={false} isAnimationActive={false} />
            {frame(panels.rsi.dom)}
          </ComposedChart>
        </div>

        <LegendBox
          left={160}
          top={55}
          width={288}
          entries={[
            { label: 'Close Price', kind: 'line', color: C_CLOSE, width: 4.6 },
            { label: 'Upper (+2.0σ)', kind: 'line', color: C_UPPER, width: 3, dash: '10 5' },
            { label: 'Middle (SMA 20)', kind: 'line', color: C_MID, width: 3, dash: '10 5' },
            { label: 'Lower (-2.0σ)', kind: 'line', color: C_LOWER, width: 3, dash: '10 5' },
            { label: 'Band Range', kind: 'patch', color: '#95a5a6', opacity: 0.12 },
            { label: 'Above Upper', kind: 'dot', color: C_UPPER },
            { label: 'Below Lower', kind: 'dot', color: C_LOWER },
          ]}
        />
        <LegendBox
          left={159}
          top={1866}
          width={252}
          entries={[
            { label: 'MACD(12,26)', kind: 'line', color: C_MACD, width: 4.4 },
            { label: 'Signal(9)', kind: 'line', color: C_SIGNAL, width: 4.4 },
            { label: 'Histogram', kind: 'patch', color: C_POS },
          ]}
        />
        <LegendBox
          left={159}
          top={2975}
          width={282}
          entries={[
            { label: '%B', kind: 'line', color: C_PB, width: 3.2 },
            { label: '%B = 1 (Upper)', kind: 'line', color: C_UPPER, width: 2.4, dash: '9 4', opacity: 0.7 },
            { label: '%B = 0.5 (Mid)', kind: 'line', color: C_MID, width: 2.4, dash: '2.5 4', opacity: 0.6 },
            { label: '%B = 0 (Lower)', kind: 'line', color: C_LOWER, width: 2.4, dash: '9 4', opacity: 0.7 },
          ]}
        />
        <LegendBox
          left={159}
          top={3615}
          width={292}
          entries={[
            { label: 'RSI(14)', kind: 'line', color: C_RSI, width: 4.4 },
            { label: 'Overbought (70)', kind: 'line', color: '#ff2a2a', width: 4, dash: '10 5' },
            { label: 'Oversold (30)', kind: 'line', color: '#2e9a2e', width: 4, dash: '10 5' },
          ]}
        />

        <svg width={FIG_W} height={80} style={{ position: 'absolute', left: 0, top: 0 }}>
          <text
            x={FIG_W / 2}
            y={60}
            textAnchor="middle"
            fontSize={49}
            fontWeight="bold"
            fontFamily={FONT}
            fill="#000"
            style={{ whiteSpace: 'pre' }}
          >
            {'FLXS  —  Bollinger Bands(20, 2.0)  +  MACD(12,26,9)  +  RSI(14)  —  2026-07-31'}
          </text>
        </svg>
      </div>
    </div>
  );
}
